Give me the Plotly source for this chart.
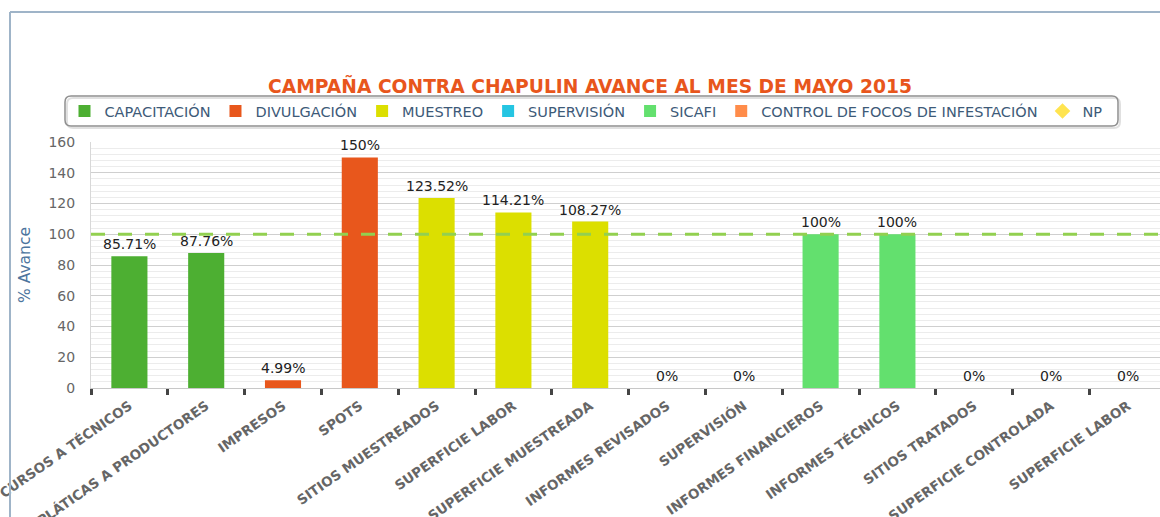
import plotly.graph_objects as go

# ---------------- data ----------------
categories = [
    "CURSOS A TÉCNICOS", "PLÁTICAS A PRODUCTORES", "IMPRESOS", "SPOTS",
    "SITIOS MUESTREADOS", "SUPERFICIE LABOR", "SUPERFICIE MUESTREADA",
    "INFORMES REVISADOS", "SUPERVISIÓN", "INFORMES FINANCIEROS",
    "INFORMES TÉCNICOS", "SITIOS TRATADOS", "SUPERFICIE CONTROLADA",
    "SUPERFICIE LABOR\u200b",
]
series_names = ["CAPACITACIÓN", "DIVULGACIÓN", "MUESTREO", "SUPERVISIÓN",
                "SICAFI", "CONTROL DE FOCOS DE INFESTACIÓN"]
capacitacion_cats = categories[0:2]
capacitacion_vals = [85.71, 87.76]
divulgacion_cats = categories[2:4]
divulgacion_vals = [4.99, 150]
muestreo_cats = categories[4:7]
muestreo_vals = [123.52, 114.21, 108.27]
supervision_cats = categories[7:9]
supervision_vals = [0, 0]
sicafi_cats = categories[9:11]
sicafi_vals = [100, 100]
control_cats = categories[11:14]
control_vals = [0, 0, 0]
target_value = 100
title_text = "CAMPAÑA CONTRA CHAPULIN AVANCE AL MES DE MAYO 2015"
y_title = "% Avance"

colors = ["#4daf32", "#e8571c", "#dcdf00", "#25c5e2", "#63e06e", "#ff8c4a"]
np_color = "#ffe450"

W, H = 1160, 517
ML, MR, MT, MB = 91, 0, 142, 129
PW = W - ML - MR
PH = H - MT - MB


def px(x):
    return (x - ML) / PW


def py(y):
    return (H - MB - y) / PH


fig = go.Figure()
series = [
    (capacitacion_cats, capacitacion_vals),
    (divulgacion_cats, divulgacion_vals),
    (muestreo_cats, muestreo_vals),
    (supervision_cats, supervision_vals),
    (sicafi_cats, sicafi_vals),
    (control_cats, control_vals),
]
for name, color, (cats, vals) in zip(series_names, colors, series):
    fig.add_trace(go.Bar(
        x=cats, y=vals, name=name, marker=dict(color=color, line=dict(width=0)),
        width=0.47,
    ))
    for c, v in zip(cats, vals):
        fig.add_annotation(
            x=c, y=v, xref="x", yref="y", text=f"{v:g}%", showarrow=False,
            yanchor="bottom", yshift=2,
            font=dict(family="DejaVu Sans", size=14, color="#222222"),
        )

fig.add_trace(go.Scatter(
    x=[categories[0]], y=[None], name="NP", mode="markers",
    marker=dict(symbol="diamond", color=np_color, size=13),
))

fig.add_shape(type="line", xref="paper", yref="y", x0=0, x1=1,
              y0=target_value, y1=target_value,
              line=dict(color="#92d050", width=3, dash="14px,13px"), layer="above")

# outer frame
fig.add_shape(type="line", xref="paper", yref="paper",
              x0=px(10), x1=px(10), y0=py(12), y1=py(H + 5),
              line=dict(color="#9fb4c8", width=2))
fig.add_shape(type="line", xref="paper", yref="paper",
              x0=px(10), x1=px(W + 5), y0=py(12), y1=py(12),
              line=dict(color="#9fb4c8", width=2))

# legend rounded box
x0, x1, y0, y1, r = px(65), px(1118), py(96), py(126), 6
rx, ry = r / PW, r / PH


def rounded(dx, dy):
    a0, a1, b0, b1 = x0 + dx, x1 + dx, y0 - dy, y1 - dy
    return (f"M {a0+rx},{b0} L {a1-rx},{b0} Q {a1},{b0} {a1},{b0-ry} "
            f"L {a1},{b1+ry} Q {a1},{b1} {a1-rx},{b1} L {a0+rx},{b1} "
            f"Q {a0},{b1} {a0},{b1+ry} L {a0},{b0-ry} Q {a0},{b0} {a0+rx},{b0} Z")


fig.add_shape(type="path", xref="paper", yref="paper", path=rounded(2 / PW, 2 / PH),
              line=dict(color="rgba(0,0,0,0.12)", width=2))
fig.add_shape(type="path", xref="paper", yref="paper", path=rounded(0, 0),
              line=dict(color="#8f8f8f", width=1.5), fillcolor="rgba(255,255,255,0)")

fig.update_layout(
    width=W, height=H,
    margin=dict(l=ML, r=MR, t=MT, b=MB, pad=0, autoexpand=False),
    paper_bgcolor="white", plot_bgcolor="white",
    barmode="overlay",
    title=dict(text=f"<b>{title_text}</b>", xref="container", x=590 / W, xanchor="center",
               y=1 - 86 / H, yanchor="middle",
               font=dict(family="DejaVu Sans", size=18.7, color="#e8561c")),
    legend=dict(orientation="h", x=px(586), xanchor="center",
                y=py(111), yanchor="middle", bgcolor="rgba(0,0,0,0)",
                borderwidth=0,
                font=dict(family="DejaVu Sans", size=14.5, color="#3d5a78"),
                itemsizing="constant", tracegroupgap=0),
    font=dict(family="DejaVu Sans"),
    showlegend=True,
)
fig.update_xaxes(
    type="category", categoryorder="array", categoryarray=categories,
    range=[-0.5, -0.5 + PW / 76.8], automargin=False,
    tickson="boundaries", ticks="outside", ticklen=6, tickwidth=3, tickcolor="#444444",
    tickangle=-35, ticklabelstandoff=4,
    tickfont=dict(family="DejaVu Sans", size=13.5, color="#666666", weight="bold"),
    showline=True, linecolor="#c8c8c8", linewidth=1, showgrid=False, zeroline=False,
)
fig.update_yaxes(
    range=[0, 160], dtick=20, showgrid=True, gridcolor="#cfcfcf", gridwidth=1,
    automargin=False,
    minor=dict(dtick=4, showgrid=True, gridcolor="#ececec", gridwidth=1),
    tickfont=dict(family="DejaVu Sans", size=14, color="#666666"),
    ticks="", ticklabelstandoff=12,
    title=dict(text=y_title, font=dict(family="DejaVu Sans", size=15.5, color="#4d759e"),
               standoff=14),
    showline=True, linecolor="#d8d8d8", linewidth=1, zeroline=False,
)

fig.write_html(
    "out.html",
    config={"displayModeBar": False},
    post_script="document.body.style.margin='0';document.body.style.overflow='hidden';",
)
